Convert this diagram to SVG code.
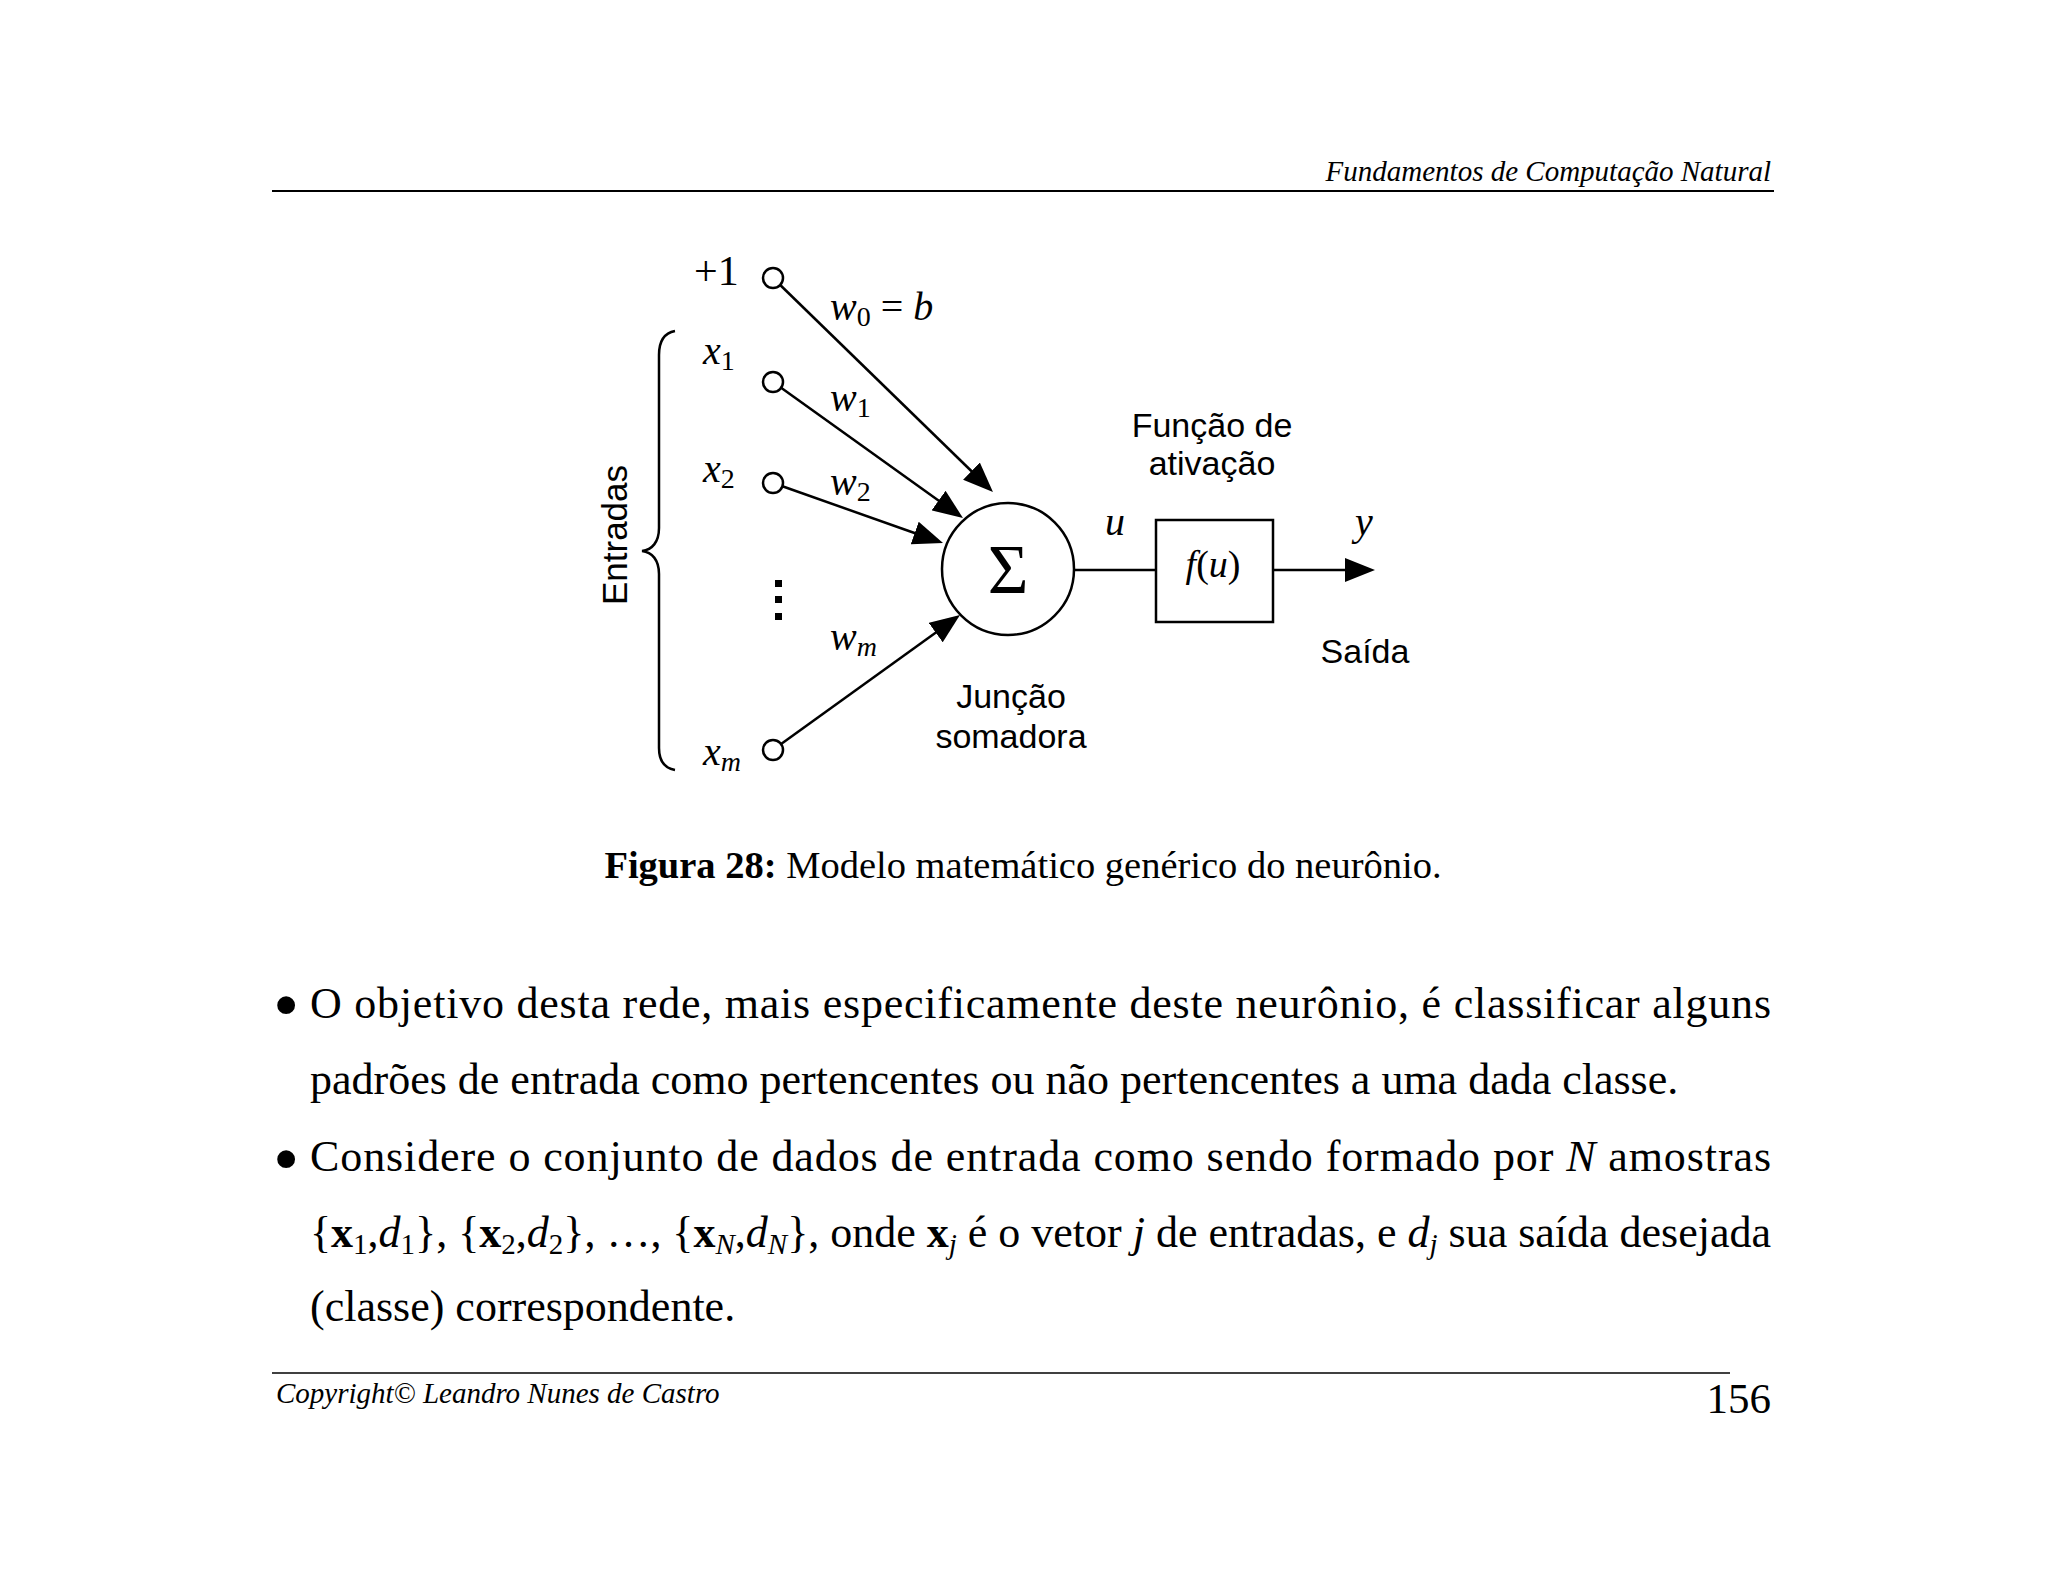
<svg xmlns="http://www.w3.org/2000/svg" width="2048" height="1582" viewBox="0 0 2048 1582">
<style>
.tr{font-family:"Liberation Serif","Times New Roman",serif;fill:#000}
.ti{font-family:"Liberation Serif","Times New Roman",serif;font-style:italic;fill:#000}
.ar{font-family:"Liberation Sans",Arial,sans-serif;fill:#000}
.ln{stroke:#000;stroke-width:2.5;fill:none}
.arr{stroke:#000;stroke-width:2.5;fill:none;marker-end:url(#ah)}
.port{stroke:#000;stroke-width:2.5;fill:#fff}
</style>
<defs>
<marker id="ah" markerUnits="userSpaceOnUse" markerWidth="30" markerHeight="24" refX="2" refY="12" orient="auto">
<path d="M0,0 L30,12 L0,24 z" fill="#000"/>
</marker>
</defs>
<rect width="2048" height="1582" fill="#fff"/>

<g id="header">
<text class="ti" x="1771" y="181" font-size="29" text-anchor="end">Fundamentos de Computação Natural</text>
<line x1="272" y1="191" x2="1774" y2="191" stroke="#000" stroke-width="2"/>
</g>

<g id="connectors">
<line class="arr" x1="780.2" y1="285" x2="972.9" y2="472.5"/>
<line class="arr" x1="781.1" y1="387.8" x2="940.2" y2="501.7"/>
<line class="arr" x1="782.4" y1="486.3" x2="916.6" y2="533.7"/>
<line class="arr" x1="781.1" y1="744.1" x2="937.3" y2="631.4"/>
<line class="ln" x1="1074" y1="570" x2="1156" y2="570"/>
<line class="arr" x1="1273" y1="570" x2="1347" y2="570"/>
</g>

<g id="input-bias">
<circle class="port" cx="773" cy="278" r="10"/>
<text class="tr" x="694" y="285" font-size="42">+1</text>
</g>
<g id="input-x1">
<circle class="port" cx="773" cy="382" r="10"/>
<text class="ti" x="703" y="364" font-size="40">x<tspan font-style="normal" font-size="28" dy="6">1</tspan></text>
</g>
<g id="input-x2">
<circle class="port" cx="773" cy="483" r="10"/>
<text class="ti" x="703" y="482" font-size="40">x<tspan font-style="normal" font-size="28" dy="6">2</tspan></text>
</g>
<g id="input-dots">
<rect x="775" y="580" width="7" height="7"/>
<rect x="775" y="596" width="7" height="7"/>
<rect x="775" y="613" width="7" height="7"/>
</g>
<g id="input-xm">
<circle class="port" cx="773" cy="750" r="10"/>
<text class="ti" x="703" y="765" font-size="40">x<tspan font-size="28" dy="6">m</tspan></text>
</g>

<g id="weights">
<text class="ti" x="830" y="320" font-size="40">w<tspan font-style="normal" font-size="28" dy="6">0</tspan><tspan font-style="normal" dy="-6"> = </tspan>b</text>
<text class="ti" x="830" y="411" font-size="40">w<tspan font-style="normal" font-size="28" dy="6">1</tspan></text>
<text class="ti" x="830" y="495" font-size="40">w<tspan font-style="normal" font-size="28" dy="6">2</tspan></text>
<text class="ti" x="830" y="650" font-size="40">w<tspan font-size="28" dy="6">m</tspan></text>
</g>

<g id="entradas-brace">
<path class="ln" d="M675,331 C664,333 659,342 659,355 L659,528 C659,542 652,550 642,551 C652,552 659,560 659,574 L659,748 C659,760 664,768 675,770"/>
<text class="ar" font-size="35" text-anchor="middle" transform="translate(627,535) rotate(-90)">Entradas</text>
</g>

<g id="sum-junction">
<circle cx="1008" cy="569" r="66" fill="#fff" stroke="#000" stroke-width="2.5"/>
<text class="tr" x="1008" y="593" font-size="70" text-anchor="middle">Σ</text>
<text class="ar" x="1011" y="708" font-size="34" text-anchor="middle">Junção</text>
<text class="ar" x="1011" y="748" font-size="34" text-anchor="middle">somadora</text>
</g>

<g id="u-label">
<text class="ti" x="1105" y="535" font-size="40">u</text>
</g>

<g id="activation">
<rect x="1156" y="520" width="117" height="102" fill="#fff" stroke="#000" stroke-width="2.5"/>
<text class="ti" x="1213" y="577" font-size="38" text-anchor="middle">f<tspan font-style="normal">(</tspan>u<tspan font-style="normal">)</tspan></text>
<text class="ar" x="1212" y="437" font-size="34" text-anchor="middle">Função de</text>
<text class="ar" x="1212" y="475" font-size="34" text-anchor="middle">ativação</text>
</g>

<g id="output">
<text class="ti" x="1355" y="535" font-size="40">y</text>
<text class="ar" x="1365" y="663" font-size="34" text-anchor="middle">Saída</text>
</g>

<g id="caption">
<text class="tr" x="1023" y="878" font-size="38.5" text-anchor="middle"><tspan font-weight="bold">Figura 28:</tspan> Modelo matemático genérico do neurônio.</text>
</g>

<g id="body">
<text class="tr" x="273" y="1030" font-size="75">•</text>
<text class="tr" x="310" y="1018" font-size="44" textLength="1461" lengthAdjust="spacing">O objetivo desta rede, mais especificamente deste neurônio, é classificar alguns</text>
<text class="tr" x="310" y="1094" font-size="44">padrões de entrada como pertencentes ou não pertencentes a uma dada classe.</text>
<text class="tr" x="273" y="1184" font-size="75">•</text>
<text class="tr" x="310" y="1171" font-size="44" textLength="1461" lengthAdjust="spacing">Considere o conjunto de dados de entrada como sendo formado por <tspan font-style="italic">N</tspan> amostras</text>
<text class="tr" x="310" y="1247" font-size="44" textLength="1461" lengthAdjust="spacing">{<tspan font-weight="bold">x</tspan><tspan font-size="29" dy="7">1</tspan><tspan dy="-7">,</tspan><tspan font-style="italic">d</tspan><tspan font-size="29" dy="7">1</tspan><tspan dy="-7">}, {</tspan><tspan font-weight="bold">x</tspan><tspan font-size="29" dy="7">2</tspan><tspan dy="-7">,</tspan><tspan font-style="italic">d</tspan><tspan font-size="29" dy="7">2</tspan><tspan dy="-7">}, …, {</tspan><tspan font-weight="bold">x</tspan><tspan font-size="29" font-style="italic" dy="7">N</tspan><tspan dy="-7">,</tspan><tspan font-style="italic">d</tspan><tspan font-size="29" font-style="italic" dy="7">N</tspan><tspan dy="-7">}, onde </tspan><tspan font-weight="bold">x</tspan><tspan font-size="29" font-style="italic" dy="7">j</tspan><tspan dy="-7"> é o vetor </tspan><tspan font-style="italic">j</tspan> de entradas, e <tspan font-style="italic">d</tspan><tspan font-size="29" font-style="italic" dy="7">j</tspan><tspan dy="-7"> sua saída desejada</tspan></text>
<text class="tr" x="310" y="1321" font-size="44">(classe) correspondente.</text>
</g>

<g id="footer">
<line x1="272" y1="1373" x2="1730" y2="1373" stroke="#000" stroke-width="1.5"/>
<text class="ti" x="276" y="1403" font-size="29">Copyright© Leandro Nunes de Castro</text>
<text class="tr" x="1771" y="1413" font-size="43" text-anchor="end">156</text>
</g>
</svg>
